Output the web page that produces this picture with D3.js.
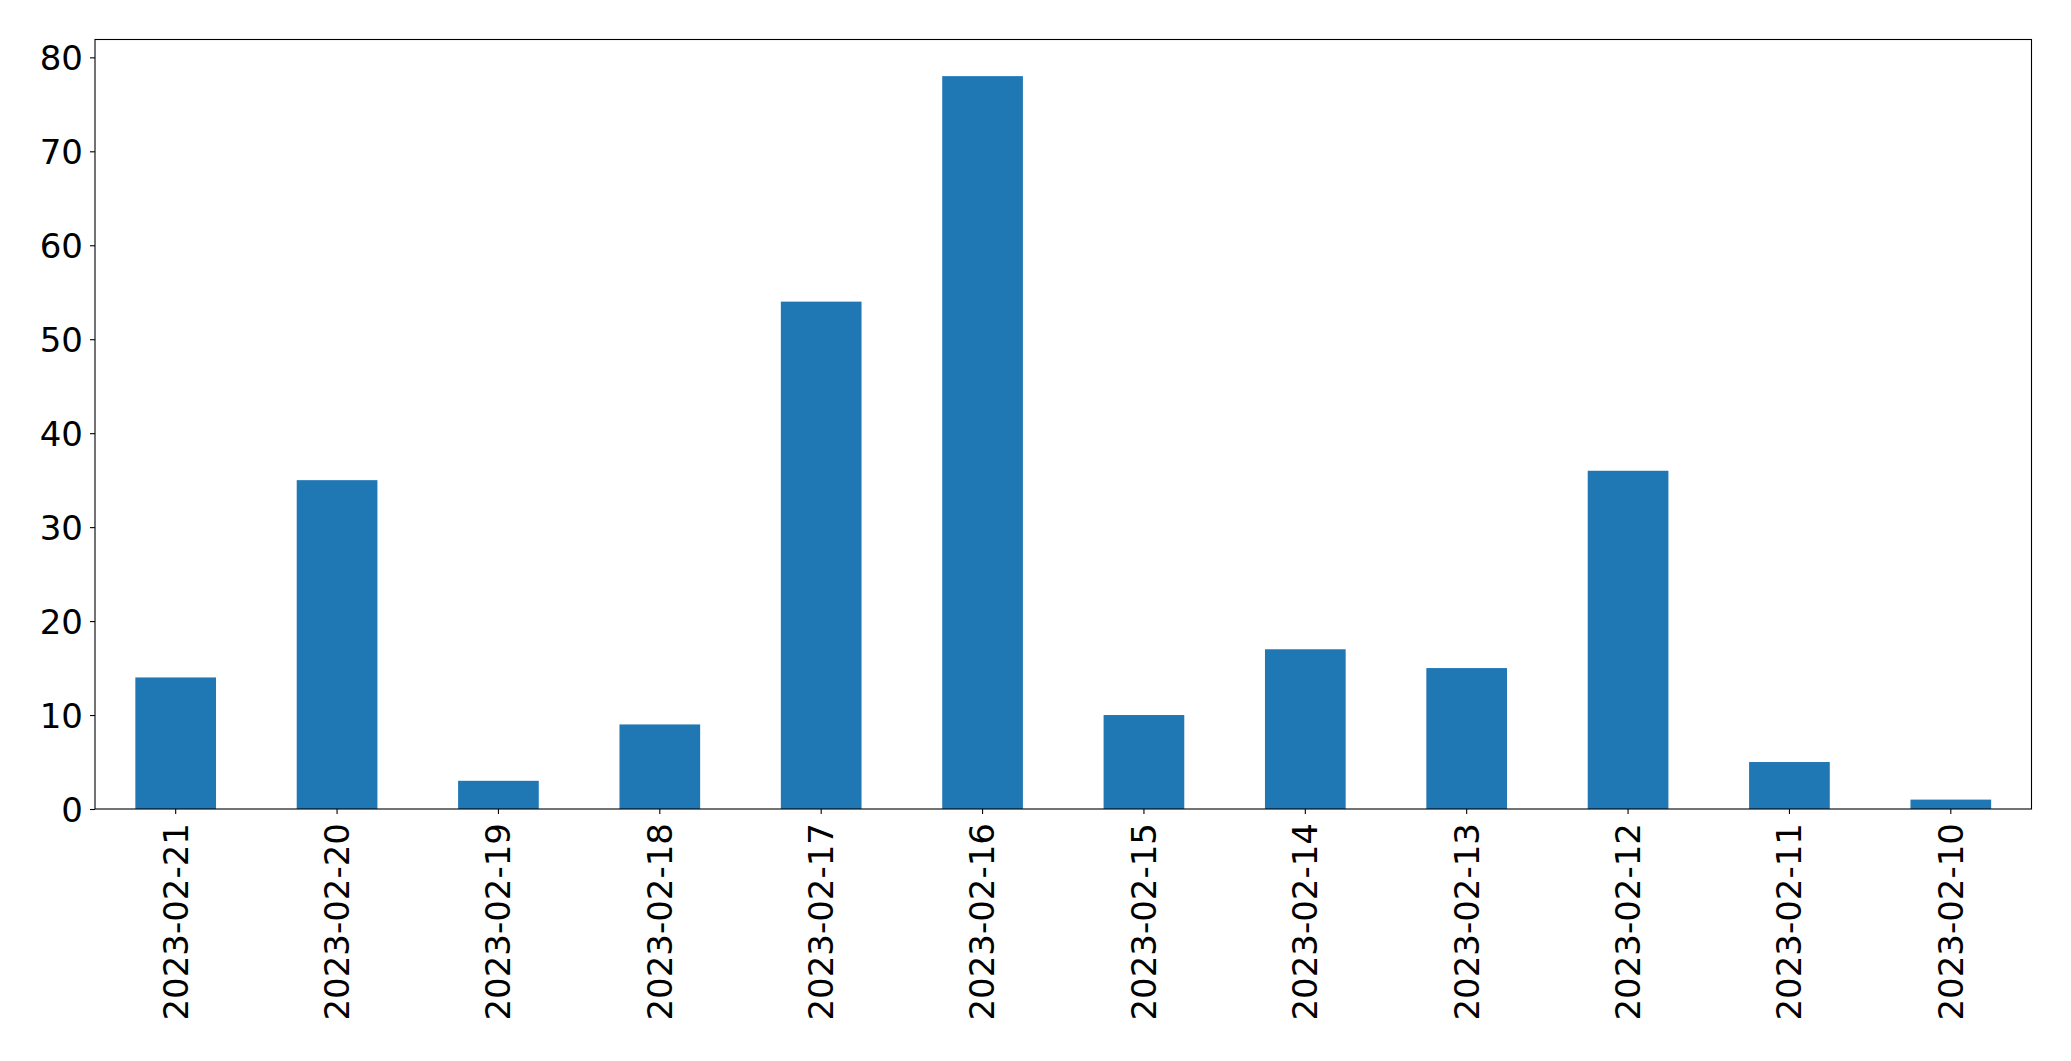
<!DOCTYPE html>
<html><head><meta charset="utf-8">
<script src="https://cdn.jsdelivr.net/npm/d3@7"></script>
<style>body{margin:0;background:#fff}svg{display:block}text{font-family:"DejaVu Sans",sans-serif}</style>
</head><body>
<svg id="c" width="2071" height="1061"></svg>
<script>
const categories = ["2023-02-21","2023-02-20","2023-02-19","2023-02-18","2023-02-17","2023-02-16","2023-02-15","2023-02-14","2023-02-13","2023-02-12","2023-02-11","2023-02-10"];
const values = [14,35,3,9,54,78,10,17,15,36,5,1];
const yTicks = [0,10,20,30,40,50,60,70,80];

const svg = d3.select("#c");
const L=95, R=2031.5, T=39.5, B=809;
const x = d3.scaleBand().domain(categories).range([L,R]).paddingInner(0.5).paddingOuter(0.25);
const y = d3.scaleLinear().domain([0, d3.max(values)*1.05]).range([B,T]);

svg.append("g").selectAll("rect").data(values).join("rect")
  .attr("x",(d,i)=>x(categories[i])).attr("width",x.bandwidth())
  .attr("y",d=>y(d)).attr("height",d=>B-y(d)).attr("fill","#1f77b4");

const fs = 34;
const ya = svg.append("g").attr("transform",`translate(${L},0)`)
  .call(d3.axisLeft(y).tickValues(yTicks).tickSize(5).tickPadding(7).tickFormat(d3.format("d")));
ya.select(".domain").remove();
ya.selectAll("line").attr("stroke","#000").attr("stroke-width",1.1);
ya.selectAll("text").attr("font-size",fs).attr("fill","#000").attr("dy","0.36em").style("font-family","DejaVu Sans");

const xa = svg.append("g").attr("transform",`translate(0,${B})`)
  .call(d3.axisBottom(x).tickSize(5).tickPadding(9));
xa.select(".domain").remove();
xa.selectAll("line").attr("stroke","#000").attr("stroke-width",1.1);
xa.selectAll("text").attr("font-size",fs).attr("fill","#000").style("font-family","DejaVu Sans")
  .attr("transform","rotate(-90)").attr("text-anchor","end")
  .attr("x",-14).attr("y",0).attr("dy","0.35em");

svg.append("rect").attr("x",L).attr("y",T).attr("width",R-L).attr("height",B-T)
  .attr("fill","none").attr("stroke","#000").attr("stroke-width",1.1);
</script>
</body></html>
